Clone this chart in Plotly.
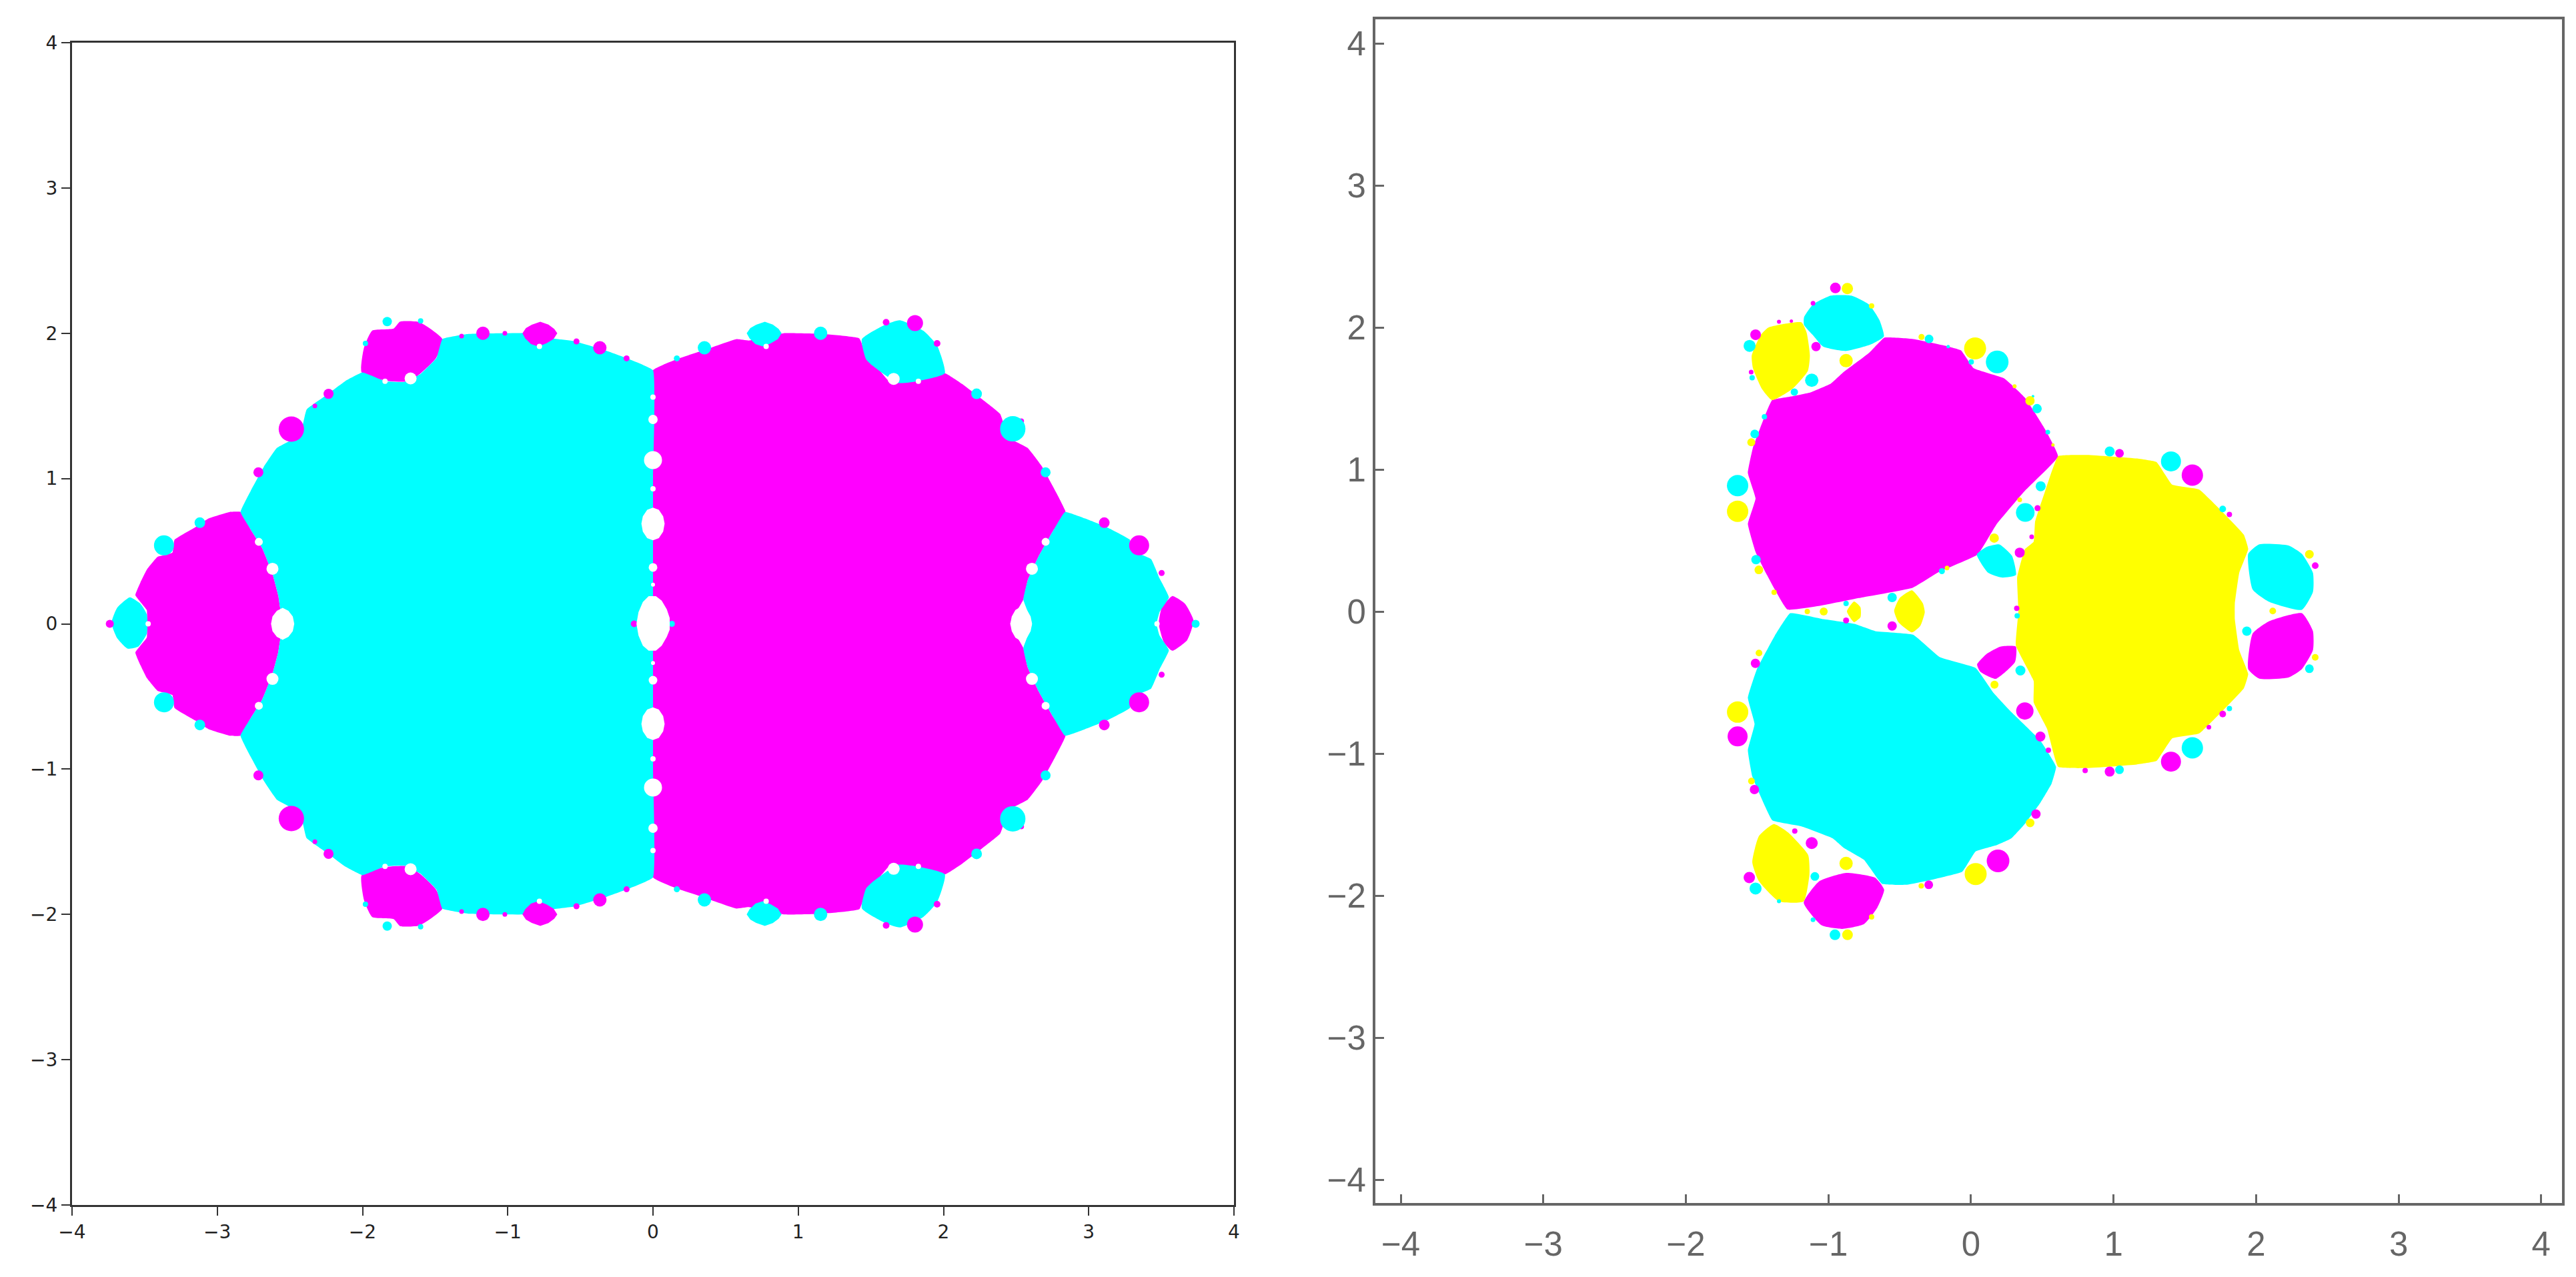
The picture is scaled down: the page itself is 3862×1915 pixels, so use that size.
import plotly.graph_objects as go

W, H = 3862, 1915
PAGE_MARGIN = 8  # the page's own margin around the figure, in pixels
TICKS = [-4, -3, -2, -1, 0, 1, 2, 3, 4]
CYAN, MAGENTA, YELLOW, WHITE = "#00FFFF", "#FF00FF", "#FFFF00", "#FFFFFF"

# ---------- left panel: region outlines (x, y) ----------
L_CYAN_BODY = [(0,1.745),(-.16,1.82),(-.337,1.885),(-.54,1.945),(-.69,1.965),(-.89,2.0),(-1.04,2.0),(-1.27,1.995),(-1.45,1.96),
    (-1.49,1.83),(-1.6,1.72),(-1.71,1.665),(-1.845,1.67),(-2.0,1.73),(-2.12,1.67),(-2.24,1.58),(-2.385,1.475),(-2.43,1.3),
    (-2.59,1.21),(-2.68,1.08),(-2.77,.915),(-2.84,.77),(-2.77,.65),(-2.69,.52),(-2.62,.345),(-2.58,.195),(-2.56,.08),(-2.47,0),
    (-2.56,-.08),(-2.58,-.195),(-2.62,-.345),(-2.69,-.52),(-2.77,-.65),(-2.84,-.77),(-2.77,-.915),(-2.68,-1.08),(-2.59,-1.21),
    (-2.43,-1.3),(-2.385,-1.475),(-2.24,-1.58),(-2.12,-1.67),(-2.0,-1.73),(-1.845,-1.67),(-1.71,-1.665),(-1.6,-1.72),(-1.49,-1.83),
    (-1.45,-1.96),(-1.27,-1.995),(-1.04,-2.0),(-.89,-2.0),(-.69,-1.965),(-.54,-1.945),(-.337,-1.885),(-.16,-1.82),(0,-1.745),(0,-1),(0,0),(0,1)]
L_MAGENTA_BODY = [(0,1.745),(.16,1.82),(.355,1.885),(.575,1.96),(.66,1.95),(.9,2.0),(1.16,1.995),(1.42,1.965),(1.47,1.84),(1.54,1.77),
    (1.63,1.665),(1.82,1.67),(2.01,1.725),(2.13,1.65),(2.26,1.55),(2.39,1.445),(2.45,1.28),(2.58,1.21),(2.68,1.08),(2.77,.915),
    (2.84,.77),(2.755,.64),(2.653,.46),(2.58,.3),(2.55,.167),(2.46,0),(2.55,-.167),(2.58,-.3),(2.653,-.46),(2.755,-.64),(2.84,-.77),
    (2.77,-.915),(2.68,-1.08),(2.58,-1.21),(2.45,-1.28),(2.39,-1.445),(2.26,-1.55),(2.13,-1.65),(2.01,-1.725),(1.82,-1.67),(1.63,-1.665),
    (1.54,-1.77),(1.47,-1.84),(1.42,-1.965),(1.16,-1.995),(.9,-2.0),(.66,-1.95),(.575,-1.96),(.355,-1.885),(.16,-1.82),(0,-1.745),(0,-1),(0,0),(0,1)]
L_MAGENTA_LEFT = [(-2.84,.77),(-2.914,.77),(-3.06,.725),(-3.148,.667),(-3.294,.579),(-3.309,.49),(-3.411,.461),(-3.485,.373),(-3.529,.285),
    (-3.564,.197),(-3.485,.094),(-3.485,0),(-3.485,-.094),(-3.564,-.197),(-3.529,-.285),(-3.485,-.373),(-3.411,-.461),(-3.309,-.49),
    (-3.294,-.579),(-3.148,-.667),(-3.06,-.725),(-2.914,-.77),(-2.84,-.77),(-2.77,-.65),(-2.69,-.52),(-2.62,-.345),(-2.58,-.195),
    (-2.56,-.08),(-2.47,0),(-2.56,.08),(-2.58,.195),(-2.62,.345),(-2.69,.52),(-2.77,.65)]
L_CYAN_RIGHT = [(2.837,.77),(2.975,.725),(3.121,.667),(3.283,.579),(3.297,.505),(3.429,.446),(3.487,.314),(3.552,.182),(3.487,.079),(3.467,0),
    (3.487,-.079),(3.552,-.182),(3.487,-.314),(3.429,-.446),(3.297,-.505),(3.283,-.579),(3.121,-.667),(2.975,-.725),(2.837,-.77),
    (2.755,-.64),(2.653,-.46),(2.58,-.3),(2.55,-.167),(2.609,0),(2.55,.167),(2.58,.3),(2.653,.46),(2.755,.64)]
L_CYAN_TIP = [(-3.602,.182),(-3.529,.138),(-3.485,.065),(-3.485,-.068),(-3.543,-.156),(-3.616,-.171),(-3.69,-.097),(-3.728,.006),(-3.69,.109)]
L_MAGENTA_TIP = [(3.575,.191),(3.663,.138),(3.722,.021),(3.678,-.112),(3.575,-.185),(3.517,-.126),(3.482,0),(3.502,.109)]
L_MAGENTA_TOP = [(-1.933,2.018),(-1.786,2.032),(-1.742,2.08),(-1.61,2.077),(-1.45,1.96),(-1.493,1.83),(-1.596,1.727),(-1.684,1.668),(-1.845,1.674),(-2.006,1.73),(-1.99,1.9)]
L_MAGENTA_BOT = [(-1.933,-2.018),(-1.786,-2.032),(-1.742,-2.08),(-1.61,-2.077),(-1.45,-1.96),(-1.493,-1.83),(-1.596,-1.727),(-1.684,-1.668),(-1.845,-1.674),(-2.006,-1.73),(-1.99,-1.9)]
L_CYAN_TOP = [(1.438,1.959),(1.6,2.06),(1.70,2.09),(1.862,2.017),(1.956,1.915),(2.009,1.725),(1.818,1.67),(1.687,1.658),(1.511,1.777),(1.467,1.821)]
L_CYAN_BOT = [(1.438,-1.959),(1.6,-2.06),(1.70,-2.09),(1.862,-2.017),(1.956,-1.915),(2.009,-1.725),(1.818,-1.67),(1.687,-1.658),(1.511,-1.777),(1.467,-1.821)]
L_MAGENTA_CAP_T = [(-.899,2.0),(-.875,2.035),(-.835,2.058),(-.776,2.079),(-.72,2.06),(-.68,2.03),(-.659,2.0),(-.685,1.96),(-.735,1.93),(-.791,1.909),(-.84,1.925),(-.88,1.965)]
L_MAGENTA_CAP_B = [(-.899,-2.0),(-.875,-2.035),(-.835,-2.058),(-.776,-2.079),(-.72,-2.06),(-.68,-2.03),(-.659,-2.0),(-.685,-1.96),(-.735,-1.93),(-.791,-1.909),(-.84,-1.925),(-.88,-1.965)]
L_CYAN_CAP_T = [(.645,2.0),(.67,2.035),(.71,2.058),(.77,2.079),(.825,2.06),(.865,2.03),(.885,2.0),(.86,1.96),(.81,1.93),(.755,1.909),(.705,1.925),(.665,1.965)]
L_CYAN_CAP_B = [(.645,-2.0),(.67,-2.035),(.71,-2.058),(.77,-2.079),(.825,-2.06),(.865,-2.03),(.885,-2.0),(.86,-1.96),(.81,-1.93),(.755,-1.909),(.705,-1.925),(.665,-1.965)]
L_HOLE_SEAM = [(-.114,0),(-.1,.08),(-.07,.15),(-.03,.19),(.02,.19),(.06,.16),(.095,.1),(.115,.04),(.115,-.04),(.095,-.09),(.06,-.15),(.02,-.185),(-.03,-.185),(-.07,-.15),(-.1,-.08)]
L_HOLE_SEAM_T = [(0,.8),(.04,.785),(.07,.74),(.08,.69),(.07,.635),(.04,.59),(0,.575),(-.04,.59),(-.07,.635),(-.08,.69),(-.07,.74),(-.04,.785)]
L_HOLE_SEAM_B = [(0,-.8),(.04,-.785),(.07,-.74),(.08,-.69),(.07,-.635),(.04,-.59),(0,-.575),(-.04,-.59),(-.07,-.635),(-.08,-.69),(-.07,-.74),(-.04,-.785)]
L_HOLE_LEFT = [(-2.55,.11),(-2.51,.09),(-2.48,.05),(-2.47,0),(-2.48,-.05),(-2.51,-.09),(-2.55,-.11),(-2.59,-.09),(-2.62,-.05),(-2.63,0),(-2.62,.05),(-2.59,.09)]
L_HOLE_RIGHT = [(2.536,.12),(2.575,.095),(2.6,.05),(2.61,0),(2.6,-.05),(2.575,-.095),(2.536,-.12),(2.495,-.095),(2.47,-.05),(2.46,0),(2.47,.05),(2.495,.095)]

# small blobs: x, y, diameter
L_DOTS_MAGENTA = [(-2.49,1.34,38),(-2.49,-1.34,38),(-2.717,1.043,15),(-2.717,-1.043,15),(-2.234,1.583,15),(-2.234,-1.583,15),(-2.328,1.5,7),(-2.328,-1.5,7),
    (-1.171,2,20),(-1.171,-2,20),(-1.318,1.98,7),(-1.318,-1.98,7),(-1.02,2,7),(-1.02,-2,7),(-.366,1.9,20),(-.366,-1.9,20),(-.527,1.944,9),(-.527,-1.944,9),
    (-.182,1.827,9),(-.182,-1.827,9),(-3.74,0,12),(-.13,0,10),(3.347,.54,30),(3.347,-.54,30),(3.107,.696,16),(3.107,-.696,16),(3.502,.35,9),(3.502,-.35,9),
    (1.804,2.07,24),(1.804,-2.07,24),(1.605,2.076,10),(1.605,-2.076,10),(1.956,1.93,10),(1.956,-1.93,10),(2.536,1.395,8),(2.536,-1.395,8)]
L_DOTS_CYAN = [(-3.367,.54,30),(-3.367,-.54,30),(-3.12,.696,16),(-3.12,-.696,16),(-1.83,2.08,14),(-1.83,-2.08,14),(-1.6,2.085,8),(-1.6,-2.085,8),(-1.98,1.93,8),(-1.98,-1.93,8),
    (.354,1.9,20),(.354,-1.9,20),(.164,1.827,9),(.164,-1.827,9),(1.154,2,20),(1.154,-2,20),(2.228,1.583,16),(2.228,-1.583,16),(2.477,1.342,38),(2.477,-1.342,38),
    (2.703,1.043,15),(2.703,-1.043,15),(3.736,0,12),(.13,0,9)]
L_DOTS_WHITE = [(0,1.127,27),(0,-1.127,27),(0,1.407,14),(0,-1.407,14),(0,1.56,8),(0,-1.56,8),(0,.93,8),(0,-.93,8),(0,.388,13),(0,-.388,13),(0,.27,6),(0,-.27,6),
    (-2.62,.379,18),(-2.62,-.379,18),(-2.714,.564,12),(-2.714,-.564,12),(-1.669,1.689,18),(-1.669,-1.689,18),(-1.845,1.67,8),(-1.845,-1.67,8),(-.782,1.909,8),(-.782,-1.909,8),
    (2.609,.379,18),(2.609,-.379,18),(2.703,.564,12),(2.703,-.564,12),(1.657,1.686,18),(1.657,-1.686,18),(1.827,1.67,8),(1.827,-1.67,8),(.779,1.909,8),(.779,-1.909,8),(3.47,0,8),(-3.476,0,8)]

# ---------- right panel ----------
R_MAGENTA_BODY = [(.611,1.092),(.521,1.281),(.378,1.506),(.235,1.64),(.02,1.712),(-.07,1.838),(-.195,1.874),(-.41,1.919),(-.607,1.928),(-.715,1.82),(-.894,1.685),
    (-.983,1.604),(-1.126,1.542),(-1.252,1.515),(-1.395,1.488),(-1.448,1.371),(-1.529,1.155),(-1.565,.976),(-1.511,.796),(-1.565,.616),(-1.511,.419),(-1.431,.257),
    (-1.288,.014),(-1.055,.041),(-.786,.095),(-.41,.167),(-.231,.275),(.047,.401),(.181,.616),(.378,.85)]
R_YELLOW_BODY = [(.612,1.094),(.521,.85),(.45,.634),(.44,.492),(.378,.438),(.324,.239),(.333,.005),(.315,-.239),(.44,-.49),(.44,-.64),(.534,-.826),(.612,-1.094),
    (.817,-1.102),(1.162,-1.077),(1.302,-1.052),(1.412,-.893),(1.6,-.859),(1.757,-.708),(1.914,-.541),(1.945,-.44),(1.882,-.272),(1.851,-.054),(1.851,.054),(1.882,.272),
    (1.945,.44),(1.914,.541),(1.757,.708),(1.6,.859),(1.412,.893),(1.302,1.052),(1.162,1.077),(.817,1.102)]
R_CYAN_BODY = [(.597,-1.094),(.566,-1.211),(.487,-1.346),(.377,-1.496),(.283,-1.597),(.174,-1.647),(.033,-1.689),(-.061,-1.832),(-.249,-1.882),(-.453,-1.924),(-.625,-1.916),
    (-.751,-1.748),(-.892,-1.664),(-.97,-1.597),(-1.189,-1.513),(-1.393,-1.471),(-1.456,-1.346),(-1.534,-1.161),(-1.565,-.976),(-1.518,-.792),(-1.565,-.608),(-1.502,-.407),
    (-1.377,-.172),(-1.268,-.012),(-1.033,-.054),(-.813,-.088),(-.672,-.138),(-.406,-.163),(-.218,-.322),(.033,-.398),(.159,-.574),(.283,-.708),(.487,-.91)]
R_CYAN_LOBE_TOP = [(-1.171,2.071),(-1.109,2.161),(-.983,2.224),(-.84,2.224),(-.715,2.161),(-.643,2.054),(-.611,1.937),(-.697,1.883),(-.876,1.834),(-1.037,1.865),(-1.109,1.946),(-1.171,2.018)]
R_YELLOW_LOBE_TOP = [(-1.422,1.999),(-1.306,2.026),(-1.189,2.036),(-1.153,1.964),(-1.13,1.802),(-1.144,1.694),(-1.252,1.568),(-1.395,1.488),(-1.467,1.568),(-1.529,1.712),(-1.538,1.802),(-1.476,1.945)]
R_YELLOW_LOBE_BOT = [(-1.383,-1.496),(-1.283,-1.555),(-1.142,-1.714),(-1.133,-1.849),(-1.174,-2.041),(-1.346,-2.041),(-1.487,-1.899),(-1.534,-1.765),(-1.487,-1.58)]
R_MAGENTA_LOBE_BOT = [(-.876,-1.84),(-.672,-1.874),(-.609,-1.958),(-.656,-2.083),(-.75,-2.2),(-.907,-2.234),(-1.048,-2.209),(-1.173,-2.05),(-1.064,-1.899)]
R_MAGENTA_LOBE_RIGHT = [(2.086,-.071),(2.321,-.012),(2.399,-.138),(2.399,-.272),(2.321,-.406),(2.227,-.465),(2.023,-.473),(1.945,-.406),(1.976,-.155)]
R_CYAN_LOBE_RIGHT = [(2.086,.071),(2.321,.012),(2.399,.138),(2.399,.272),(2.321,.406),(2.227,.465),(2.023,.473),(1.945,.406),(1.976,.155)]
R_CYAN_INNER = [(.041,.401),(.109,.454),(.199,.472),(.288,.392),(.315,.257),(.217,.239),(.118,.275)]
R_MAGENTA_INNER = [(.206,-.247),(.315,-.247),(.309,-.356),(.174,-.474),(.065,-.423),(.043,-.373),(.112,-.297)]
R_YELLOW_INNER = [(-.414,.149),(-.338,.059),(-.324,-.004),(-.356,-.102),(-.414,-.147),(-.509,-.075),(-.539,.005),(-.5,.095)]
R_YELLOW_INNER2 = [(-.82,.07),(-.775,.03),(-.775,-.04),(-.82,-.075),(-.87,0)]

R_DOTS_CYAN = [(-1.553,1.87,18),(-1.117,1.628,20),(-1.239,1.545,11),(.184,1.757,34),(-.294,1.919,13),(.464,1.428,14),(.539,1.263,7),(.489,.882,15),(.381,.697,28),
    (.324,-.03,8),(-.553,.099,14),(-.876,.056,8),(-1.517,1.25,13),(-1.637,.886,32),(-1.508,.365,14),(-1.449,1.371,8),(-1.535,1.646,8),(1.935,-.138,14),(2.374,-.403,13),
    (1.553,-.96,32),(1.042,-1.114,13),(1.813,-.683,8),(1.403,1.057,30),(.973,1.127,15),(1.766,.722,10),(.347,-.415,15),(-.954,-2.276,16),(-1.095,-1.865,13),(-1.511,-1.95,18),
    (-.16,1.865,5),(.435,1.515,4),(-.204,.284,9),(.002,1.757,8),(-1.108,-2.17,7),(-1.347,-2.04,6)]
R_DOTS_MAGENTA = [(-.951,2.278,16),(-1.511,1.949,16),(-1.087,1.865,14),(.467,.728,9),(.342,.415,15),(.321,.023,8),(-.553,-.102,14),(-.876,-.063,9),(2.415,.323,10),
    (1.403,-1.057,30),(.973,-1.127,15),(.801,-1.119,8),(1.766,-.722,10),(1.669,-.814,7),(1.553,.96,32),(1.042,1.114,13),(1.813,.683,8),(.378,-.7,26),(.487,-.88,15),(.543,-.976,8),
    (-1.637,-.879,30),(-1.512,-.365,14),(-1.519,-1.253,14),(.456,-1.426,14),(-1.117,-1.63,18),(-1.555,-1.873,17),(-1.236,-1.546,8),(.19,-1.756,34),(-.296,-1.924,13),
    (-1.347,2.04,6),(-1.26,2.045,5),(.426,.526,7),(-1.542,1.685,7),(-1.108,2.17,7)]
R_DOTS_YELLOW = [(-.867,2.273,17),(-.876,1.766,20),(.029,1.852,33),(-.347,1.933,9),(.414,1.484,14),(.163,.517,14),(-1.033,0,12),(-1.148,0,8),(-1.541,1.191,12),(-1.637,.706,32),
    (-1.488,.293,13),(-1.381,.135,8),(2.415,-.323,10),(2.374,.403,13),(2.117,.004,10),(.165,-.515,12),(-1.637,-.708,32),(-1.487,-.292,10),(-1.54,-1.194,10),(.415,-1.488,13),
    (-.866,-2.276,16),(-.876,-1.773,20),(.033,-1.848,33),(-.349,-1.932,8),(-.697,2.152,8),(.575,1.173,5),(.306,1.586,6),(-.168,.307,7),(.342,.787,7),(-.697,-2.15,8)]

fig = go.Figure()


def add_shapes(shapes, color, xa, ya, smoothing=0.0):
    xs, ys = [], []
    for shape in shapes:
        xs += [p[0] for p in shape] + [shape[0][0], None]
        ys += [p[1] for p in shape] + [shape[0][1], None]
    line = dict(width=0, color=color)
    if smoothing:
        line.update(shape="spline", smoothing=smoothing)
    fig.add_trace(go.Scatter(x=xs, y=ys, mode="lines", fill="toself", fillcolor=color,
                             line=line, xaxis=xa, yaxis=ya,
                             hoverinfo="skip", showlegend=False))


def add_dots(dots, color, xa, ya):
    fig.add_trace(go.Scatter(x=[d[0] for d in dots], y=[d[1] for d in dots], mode="markers",
                             marker=dict(size=[d[2] for d in dots], color=color, opacity=1, line=dict(width=0)),
                             xaxis=xa, yaxis=ya, hoverinfo="skip", showlegend=False))


add_shapes([L_MAGENTA_BODY], MAGENTA, "x", "y", 0.3)
add_shapes([L_MAGENTA_LEFT], MAGENTA, "x", "y", 0.3)
add_shapes([L_MAGENTA_TIP, L_MAGENTA_TOP, L_MAGENTA_BOT], MAGENTA, "x", "y", 0.5)
add_shapes([L_CYAN_BODY], CYAN, "x", "y", 0.3)
add_shapes([L_CYAN_RIGHT], CYAN, "x", "y", 0.3)
add_shapes([L_CYAN_TIP, L_CYAN_TOP, L_CYAN_BOT], CYAN, "x", "y", 0.5)
add_shapes([L_MAGENTA_CAP_T, L_MAGENTA_CAP_B], MAGENTA, "x", "y")
add_shapes([L_CYAN_CAP_T, L_CYAN_CAP_B], CYAN, "x", "y")
add_dots(L_DOTS_MAGENTA, MAGENTA, "x", "y")
add_dots(L_DOTS_CYAN, CYAN, "x", "y")
add_shapes([L_HOLE_SEAM, L_HOLE_SEAM_T, L_HOLE_SEAM_B, L_HOLE_LEFT, L_HOLE_RIGHT], WHITE, "x", "y")
add_dots(L_DOTS_WHITE, WHITE, "x", "y")

add_shapes([R_MAGENTA_LOBE_BOT, R_MAGENTA_LOBE_RIGHT, R_MAGENTA_INNER], MAGENTA, "x2", "y2", 0.5)
add_shapes([R_MAGENTA_BODY], MAGENTA, "x2", "y2", 0.3)
add_shapes([R_YELLOW_LOBE_TOP, R_YELLOW_LOBE_BOT, R_YELLOW_INNER, R_YELLOW_INNER2], YELLOW, "x2", "y2", 0.5)
add_shapes([R_YELLOW_BODY], YELLOW, "x2", "y2", 0.3)
add_shapes([R_CYAN_LOBE_TOP, R_CYAN_LOBE_RIGHT, R_CYAN_INNER], CYAN, "x2", "y2", 0.5)
add_shapes([R_CYAN_BODY], CYAN, "x2", "y2", 0.3)
add_dots(R_DOTS_CYAN, CYAN, "x2", "y2")
add_dots(R_DOTS_MAGENTA, MAGENTA, "x2", "y2")
add_dots(R_DOTS_YELLOW, YELLOW, "x2", "y2")

left_axis = dict(range=[-4, 4], tickmode="array", tickvals=TICKS, ticks="outside", ticklen=13, tickwidth=2,
                 tickcolor="#333333", showline=True, linecolor="#333333", linewidth=3, mirror=True, automargin=False,
                 showgrid=False, zeroline=False, tickfont=dict(family="DejaVu Sans", size=28, color="#222222"))
right_axis = dict(tickmode="array", tickvals=TICKS, ticks="inside", ticklen=13, tickwidth=3, automargin=False,
                  tickcolor="#666666", showline=True, linecolor="#666666", linewidth=4, mirror=True,
                  showgrid=False, zeroline=False, tickfont=dict(family="Liberation Sans", size=51, color="#666666"))


def dom_x(a, b):
    return [(a - PAGE_MARGIN) / W, (b - PAGE_MARGIN) / W]


def dom_y(bottom, top):
    return [(H - bottom + PAGE_MARGIN) / H, (H - top + PAGE_MARGIN) / H]


fig.update_layout(
    width=W, height=H, margin=dict(l=0, r=0, t=0, b=0), autosize=False,
    paper_bgcolor="white", plot_bgcolor="white", showlegend=False,
    xaxis=dict(left_axis, domain=dom_x(108, 1850), anchor="y"),
    yaxis=dict(left_axis, domain=dom_y(1807, 64), anchor="x"),
    xaxis2=dict(right_axis, range=[-4.178, 4.146], domain=dom_x(2062, 3841), anchor="y2", ticklabelstandoff=14),
    yaxis2=dict(right_axis, range=[-4.164, 4.169], domain=dom_y(1804, 29), anchor="x2"),
)

fig.write_html("out.html")
